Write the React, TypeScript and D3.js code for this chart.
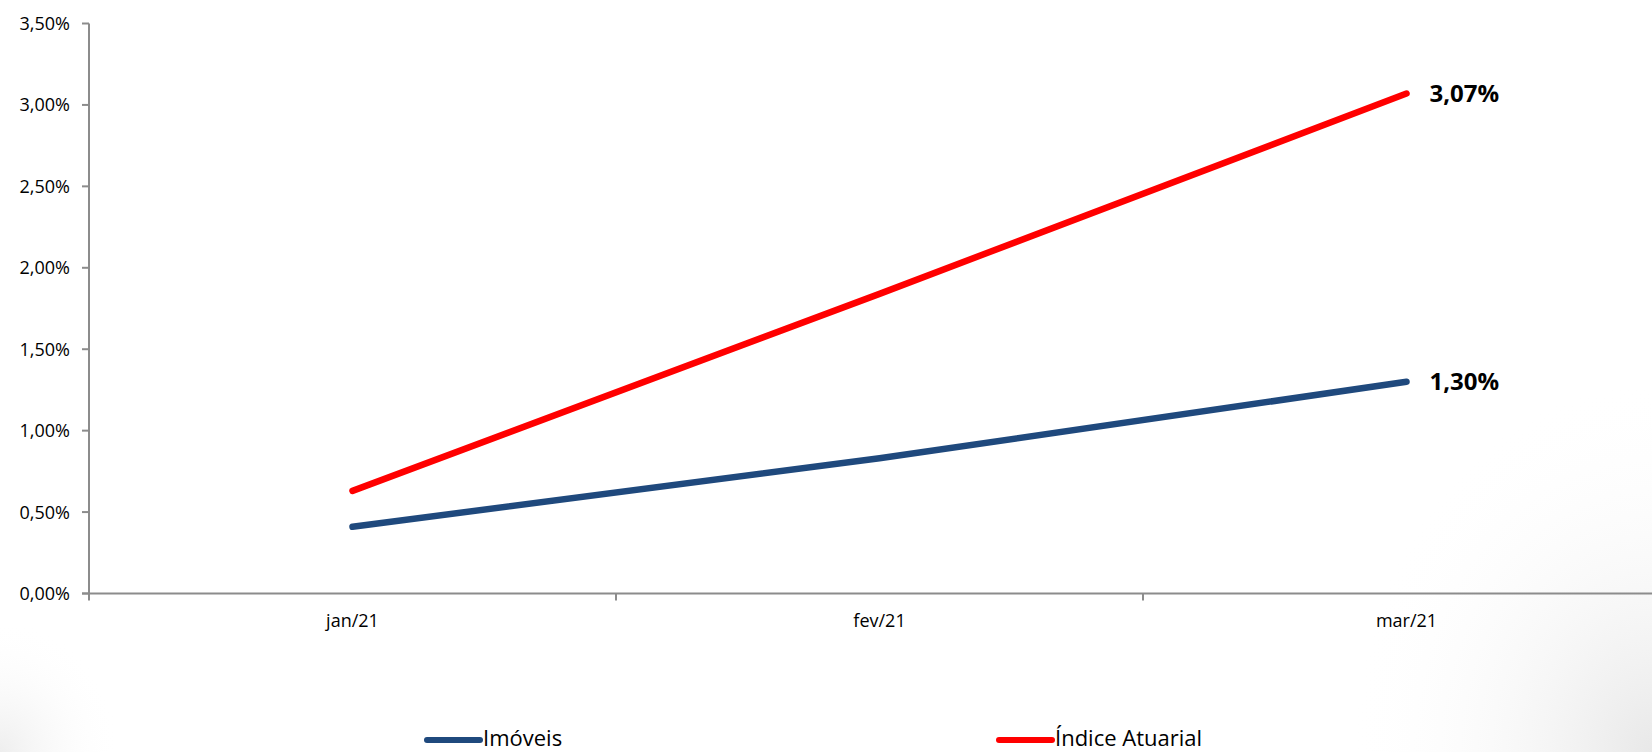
import React, { useEffect, useRef } from "react";
import * as d3 from "d3";

const categories = ["jan/21", "fev/21", "mar/21"];
const imoveis = [0.41, 0.83, 1.30];
const indiceAtuarial = [0.63, 1.84, 3.07];
const yTicks = [0, 0.5, 1, 1.5, 2, 2.5, 3, 3.5];
const seriesNames = ["Imóveis", "Índice Atuarial"];
const seriesColors = ["#1F497D", "#FF0000"];

const W = 1652;
const H = 752;

const fmt = (v: number) => v.toFixed(2).replace(".", ",") + "%";

export default function App() {
  const ref = useRef<SVGSVGElement | null>(null);

  useEffect(() => {
    const svg = d3.select(ref.current);
    svg.selectAll("*").remove();

    const defs = svg.append("defs");
    const gBR = defs.append("radialGradient").attr("id", "gbr")
      .attr("cx", 1).attr("cy", 1).attr("r", 1).attr("gradientUnits", "objectBoundingBox");
    gBR.append("stop").attr("offset", "0%").attr("stop-color", "#e8e8e8");
    gBR.append("stop").attr("offset", "100%").attr("stop-color", "#ffffff").attr("stop-opacity", 0);
    const gBL = defs.append("radialGradient").attr("id", "gbl")
      .attr("cx", 0).attr("cy", 1).attr("r", 1).attr("gradientUnits", "objectBoundingBox");
    gBL.append("stop").attr("offset", "0%").attr("stop-color", "#eeeeee");
    gBL.append("stop").attr("offset", "100%").attr("stop-color", "#ffffff").attr("stop-opacity", 0);

    svg.append("rect").attr("width", W).attr("height", H).attr("fill", "#ffffff");
    svg.append("rect").attr("x", 1350).attr("y", 380).attr("width", 302).attr("height", 372).attr("fill", "url(#gbr)");
    svg.append("rect").attr("x", 0).attr("y", 620).attr("width", 120).attr("height", 132).attr("fill", "url(#gbl)");

    const x0 = 89;
    const band = 527;
    const x = d3.scaleBand<string>().domain(categories).range([x0, x0 + band * categories.length]);
    const y = d3.scaleLinear().domain([0, 3.5]).range([593.5, 23.5]);

    const font = "'Open Sans', sans-serif";
    const axisColor = "#8c8c8c";

    // y axis
    const yAxis = svg.append("g");
    yAxis.append("line").attr("x1", x0).attr("x2", x0).attr("y1", y(3.5)).attr("y2", y(0) + 7)
      .attr("stroke", axisColor).attr("stroke-width", 2);
    yTicks.forEach((t) => {
      yAxis.append("line").attr("x1", x0 - 7).attr("x2", x0).attr("y1", y(t)).attr("y2", y(t))
        .attr("stroke", axisColor).attr("stroke-width", 2);
      yAxis.append("text").attr("x", 70).attr("y", y(t)).attr("dy", "0.36em")
        .attr("text-anchor", "end").attr("font-family", font).attr("font-size", 18)
        .attr("fill", "#000").text(fmt(t));
    });

    // x axis
    const xAxis = svg.append("g");
    xAxis.append("line").attr("x1", x0 - 7).attr("x2", W).attr("y1", y(0)).attr("y2", y(0))
      .attr("stroke", axisColor).attr("stroke-width", 2);
    categories.forEach((c, i) => {
      const bx = (x(c) as number) + x.bandwidth();
      if (i < categories.length - 1) {
        xAxis.append("line").attr("x1", bx).attr("x2", bx).attr("y1", y(0)).attr("y2", y(0) + 7)
          .attr("stroke", axisColor).attr("stroke-width", 2);
      }
      xAxis.append("text").attr("x", (x(c) as number) + x.bandwidth() / 2).attr("y", 627)
        .attr("text-anchor", "middle").attr("font-family", font).attr("font-size", 18)
        .attr("fill", "#000").text(c);
    });

    const cx = (c: string) => (x(c) as number) + x.bandwidth() / 2;
    const line = d3.line<number>().x((_, i) => cx(categories[i])).y((d) => y(d));

    const allSeries = [imoveis, indiceAtuarial];
    allSeries.forEach((s, k) => {
      svg.append("path").attr("d", line(s) as string).attr("fill", "none")
        .attr("stroke", seriesColors[k]).attr("stroke-width", 6.5)
        .attr("stroke-linecap", "round").attr("stroke-linejoin", "round");
      const last = s.length - 1;
      svg.append("text").attr("x", cx(categories[last]) + 23).attr("y", y(s[last])).attr("dy", "0.36em")
        .attr("font-family", font).attr("font-size", 24).attr("font-weight", "bold")
        .attr("fill", "#000").text(fmt(s[last]));
    });

    // legend
    const legendX = [424, 996];
    seriesNames.forEach((n, k) => {
      svg.append("line").attr("x1", legendX[k] + 3).attr("x2", legendX[k] + 56).attr("y1", 740).attr("y2", 740)
        .attr("stroke", seriesColors[k]).attr("stroke-width", 6).attr("stroke-linecap", "round");
      svg.append("text").attr("x", legendX[k] + 59).attr("y", 746)
        .attr("font-family", font).attr("font-size", 22).attr("fill", "#000").text(n);
    });
  }, []);

  return (
    <svg ref={ref} width={W} height={H}
      style={{ position: "absolute", left: 0, top: 0, display: "block" }} />
  );
}
